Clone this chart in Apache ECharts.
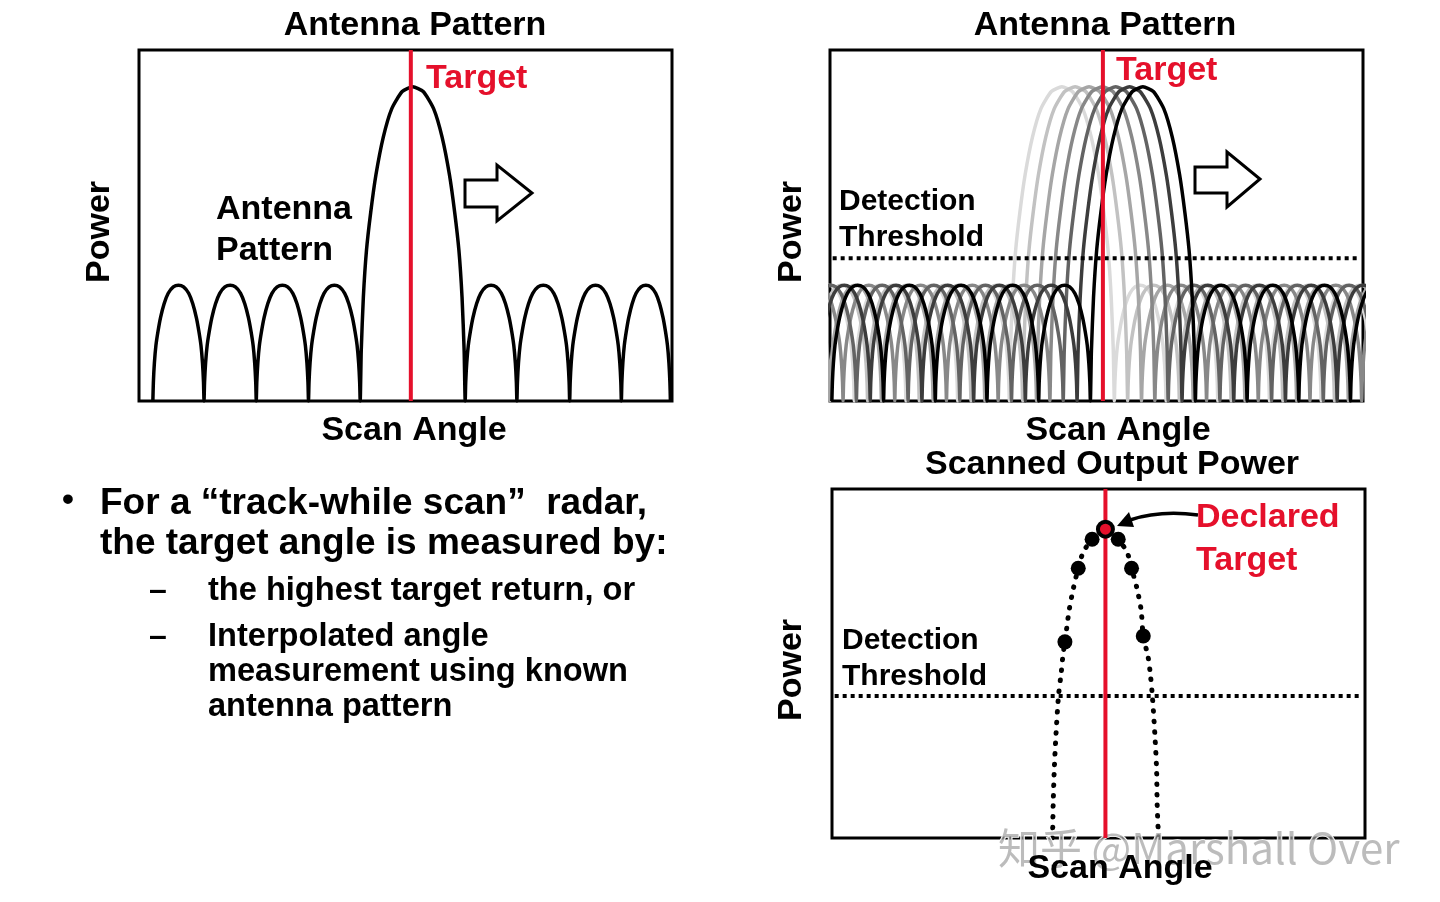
<!DOCTYPE html>
<html>
<head>
<meta charset="utf-8">
<title>Track-while-scan angle measurement</title>
<script src="https://cdn.jsdelivr.net/npm/echarts@6/dist/echarts.min.js"></script>
<style>
  html, body { margin: 0; padding: 0; background: #fff; }
  #chart { width: 1440px; height: 902px; }
</style>
</head>
<body>
<div id="chart"></div>
<script>
// scan angle and power both on a 0-100 scale

// left panel: lobe edges (scan angle) and peak power of each lobe
var lobeEdges = [2.6, 12.2, 22.0, 31.8, 41.5, 61.2, 70.9, 80.8, 90.5, 99.7];
var lobePeaks = [33, 33, 33, 33, 89.5, 33, 33, 33, 33];

// half-lobe shape (fraction of lobe width -> fraction of peak)
var shapeT = [0, 0.01, 0.03, 0.06, 0.10, 0.15, 0.22, 0.30, 0.40, 0.5];
var shapeH = [0, 0.16, 0.33, 0.48, 0.60, 0.72, 0.84, 0.93, 0.985, 1];

// right panel: main lobe centre at each scan position, light -> dark
var scanCentres = [43.5, 46.0, 48.6, 51.1, 53.6, 56.2, 58.7];
var scanShades = ['#dadada', '#c2c2c2', '#a6a6a6', '#888888', '#636363', '#3c3c3c', '#000000'];
var mainWidth = 19.7, sideWidth = 9.7, mainPeak = 89.5, sidePeak = 33;

var threshold = 40.7;
var targetAngle = [51.0, 51.2, 51.3];

// scanned output power: envelope and the sampled returns
var envelope = [[41.3, 0], [41.4, 2.3], [41.5, 10.0], [41.7, 19.5], [42.0, 29.0], [42.5, 40.8],
  [43.0, 47.3], [43.3, 51.9], [43.7, 56.2], [44.5, 65.3], [45.3, 71.6], [46.2, 77.3], [47.1, 81.7],
  [48.8, 85.6], [51.3, 88.5], [53.7, 85.6], [55.4, 81.7], [56.2, 77.3], [57.2, 71.6], [58.0, 65.3],
  [58.4, 57.9], [59.3, 51.9], [59.7, 47.3], [60.1, 40.8], [60.6, 29.0], [60.9, 19.5], [61.0, 10.0],
  [61.2, 2.3], [61.3, 0]];
var samples = [[43.7, 56.2], [46.2, 77.3], [48.8, 85.6], [53.7, 85.6], [56.2, 77.3], [58.4, 57.9]];
var declared = [[51.3, 88.5]];

var FONT = '"Liberation Sans", Arial, Helvetica, sans-serif';
var RED = '#e5102b';

function lobe(a, b, peak) {
  var w = b - a, pts = [];
  for (var i = 0; i < shapeT.length; i++) pts.push([a + shapeT[i] * w, shapeH[i] * peak]);
  for (var j = shapeT.length - 2; j >= 0; j--) pts.push([b - shapeT[j] * w, shapeH[j] * peak]);
  return pts;
}

function pattern(edges, peaks) {
  var pts = [];
  for (var i = 0; i < peaks.length; i++) {
    var l = lobe(edges[i], edges[i + 1], peaks[i]);
    if (i > 0) l.shift();
    pts = pts.concat(l);
  }
  return pts;
}

// edges / peaks for one scan position with n sidelobes each side
function scanEdges(c, n) {
  var e = [];
  for (var k = n; k >= 0; k--) e.push(c - mainWidth / 2 - k * sideWidth);
  for (var m = 0; m <= n; m++) e.push(c + mainWidth / 2 + m * sideWidth);
  return e;
}
function scanPeaks(n) {
  var p = [];
  for (var k = 0; k < n; k++) p.push(sidePeak);
  p.push(mainPeak);
  for (var m = 0; m < n; m++) p.push(sidePeak);
  return p;
}

var myChart = echarts.init(document.getElementById('chart'));

var grids = [
  {left: 139, top: 50, width: 533, height: 351},
  {left: 830, top: 50, width: 533, height: 351},
  {left: 832, top: 489, width: 533, height: 349}
];
grids.forEach(function (g) {
  g.show = true;
  g.borderColor = '#000';
  g.borderWidth = 3;
  g.backgroundColor = '#fff';
});

var xAxes = [], yAxes = [];
for (var gi = 0; gi < 3; gi++) {
  xAxes.push({type: 'value', gridIndex: gi, min: 0, max: 100, show: false});
  yAxes.push({type: 'value', gridIndex: gi, min: 0, max: 100, show: false});
}

var series = [];
series.push({
  type: 'line', xAxisIndex: 0, yAxisIndex: 0,
  data: pattern(lobeEdges, lobePeaks),
  showSymbol: false, smooth: 0.2,
  lineStyle: {color: '#000', width: 3.5}
});
scanCentres.forEach(function (c, i) {
  series.push({
    type: 'line', xAxisIndex: 1, yAxisIndex: 1,
    data: pattern(scanEdges(c, 5), scanPeaks(5)),
    showSymbol: false, smooth: 0.2,
    lineStyle: {color: scanShades[i], width: 3.5}
  });
});
[1, 2].forEach(function (gi) {
  series.push({
    type: 'line', xAxisIndex: gi, yAxisIndex: gi,
    data: [[0.5, threshold], [99.5, threshold]],
    showSymbol: false,
    lineStyle: {color: '#000', width: 4, type: [4, 4]}
  });
});
series.push({
  type: 'line', xAxisIndex: 2, yAxisIndex: 2,
  data: envelope, showSymbol: false, smooth: 0.3,
  lineStyle: {color: '#000', width: 5, type: [0.5, 10], cap: 'round'}
});
targetAngle.forEach(function (x, gi) {
  series.push({
    type: 'line', xAxisIndex: gi, yAxisIndex: gi,
    data: [[x, 0], [x, 100]],
    showSymbol: false, z: 5,
    lineStyle: {color: RED, width: 4}
  });
});
series.push({
  type: 'scatter', xAxisIndex: 2, yAxisIndex: 2,
  data: samples, symbolSize: 15, z: 6,
  itemStyle: {color: '#000', opacity: 1}
});
series.push({
  type: 'scatter', xAxisIndex: 2, yAxisIndex: 2,
  data: declared, symbolSize: 15, z: 7,
  itemStyle: {color: RED, borderColor: '#000', borderWidth: 4, opacity: 1}
});

function txt(s, x, y, size, opt) {
  opt = opt || {};
  return {
    type: 'text', x: x, y: y, z: opt.z || 10,
    rotation: opt.rotation || 0,
    style: {
      text: s,
      font: (opt.weight || 'bold') + ' ' + size + 'px ' + (opt.family || FONT),
      fill: opt.color || '#000',
      stroke: opt.stroke || null,
      lineWidth: opt.strokeWidth || 0,
      textAlign: opt.align || 'center',
      textVerticalAlign: 'middle'
    }
  };
}

var graphic = [
  // watermark
  txt('知乎 @Marshall Over', 998, 848, 42, {align: 'left', weight: 'normal',
    family: '"Noto Sans CJK SC", "Liberation Sans", sans-serif',
    color: 'rgba(160,160,160,0.7)', stroke: '#fff', strokeWidth: 1.5, z: 4}),

  txt('Antenna Pattern', 415, 26, 34),
  txt('Antenna Pattern', 1105, 26, 34),
  txt('Scanned Output Power', 1112, 465, 34),
  txt('Scan Angle', 414, 431, 34),
  txt('Scan Angle', 1118, 431, 34),
  txt('Scan Angle', 1120, 869, 34),
  txt('Power', 100, 232, 34, {rotation: Math.PI / 2}),
  txt('Power', 792, 232, 34, {rotation: Math.PI / 2}),
  txt('Power', 792, 670, 34, {rotation: Math.PI / 2}),

  txt('Target', 426, 79, 34, {align: 'left', color: RED}),
  txt('Target', 1116, 71, 34, {align: 'left', color: RED}),
  txt('Antenna', 216, 210, 34, {align: 'left'}),
  txt('Pattern', 216, 251, 34, {align: 'left'}),
  txt('Detection', 839, 202, 30, {align: 'left'}),
  txt('Threshold', 839, 238, 30, {align: 'left'}),
  txt('Detection', 842, 641, 30, {align: 'left'}),
  txt('Threshold', 842, 677, 30, {align: 'left'}),
  txt('Declared', 1196, 518, 34, {align: 'left', color: RED}),
  txt('Target', 1196, 561, 34, {align: 'left', color: RED}),

  // bullet text
  txt('•', 68, 501, 34),
  txt('For a “track-while scan”  radar,', 100, 504, 37, {align: 'left'}),
  txt('the target angle is measured by:', 100, 544, 37, {align: 'left'}),
  txt('–', 158, 591, 32),
  txt('the highest target return, or', 208, 591, 32.6, {align: 'left'}),
  txt('–', 158, 637, 32),
  txt('Interpolated angle', 208, 637, 32.6, {align: 'left'}),
  txt('measurement using known', 208, 672, 32.6, {align: 'left'}),
  txt('antenna pattern', 208, 707, 32.6, {align: 'left'}),

  // scan direction arrows
  {type: 'polygon', z: 8, shape: {points: [[465, 180], [497, 180], [497, 165], [532, 193], [497, 221], [497, 207], [465, 207]]},
    style: {fill: '#fff', stroke: '#000', lineWidth: 3}},
  {type: 'polygon', z: 8, shape: {points: [[1195, 167], [1227, 167], [1227, 152], [1260, 179], [1227, 207], [1227, 193], [1195, 193]]},
    style: {fill: '#fff', stroke: '#000', lineWidth: 3}},

  // pointer to declared target
  {type: 'bezierCurve', z: 8, shape: {x1: 1198, y1: 515, cpx1: 1160, cpy1: 510, x2: 1130, y2: 520},
    style: {stroke: '#000', lineWidth: 3.5, fill: null}},
  {type: 'polygon', z: 8, shape: {points: [[1117, 526], [1134, 527], [1129, 512]]},
    style: {fill: '#000'}}
];

myChart.setOption({
  animation: false,
  backgroundColor: '#fff',
  grid: grids,
  xAxis: xAxes,
  yAxis: yAxes,
  series: series,
  graphic: graphic
});
</script>
</body>
</html>
